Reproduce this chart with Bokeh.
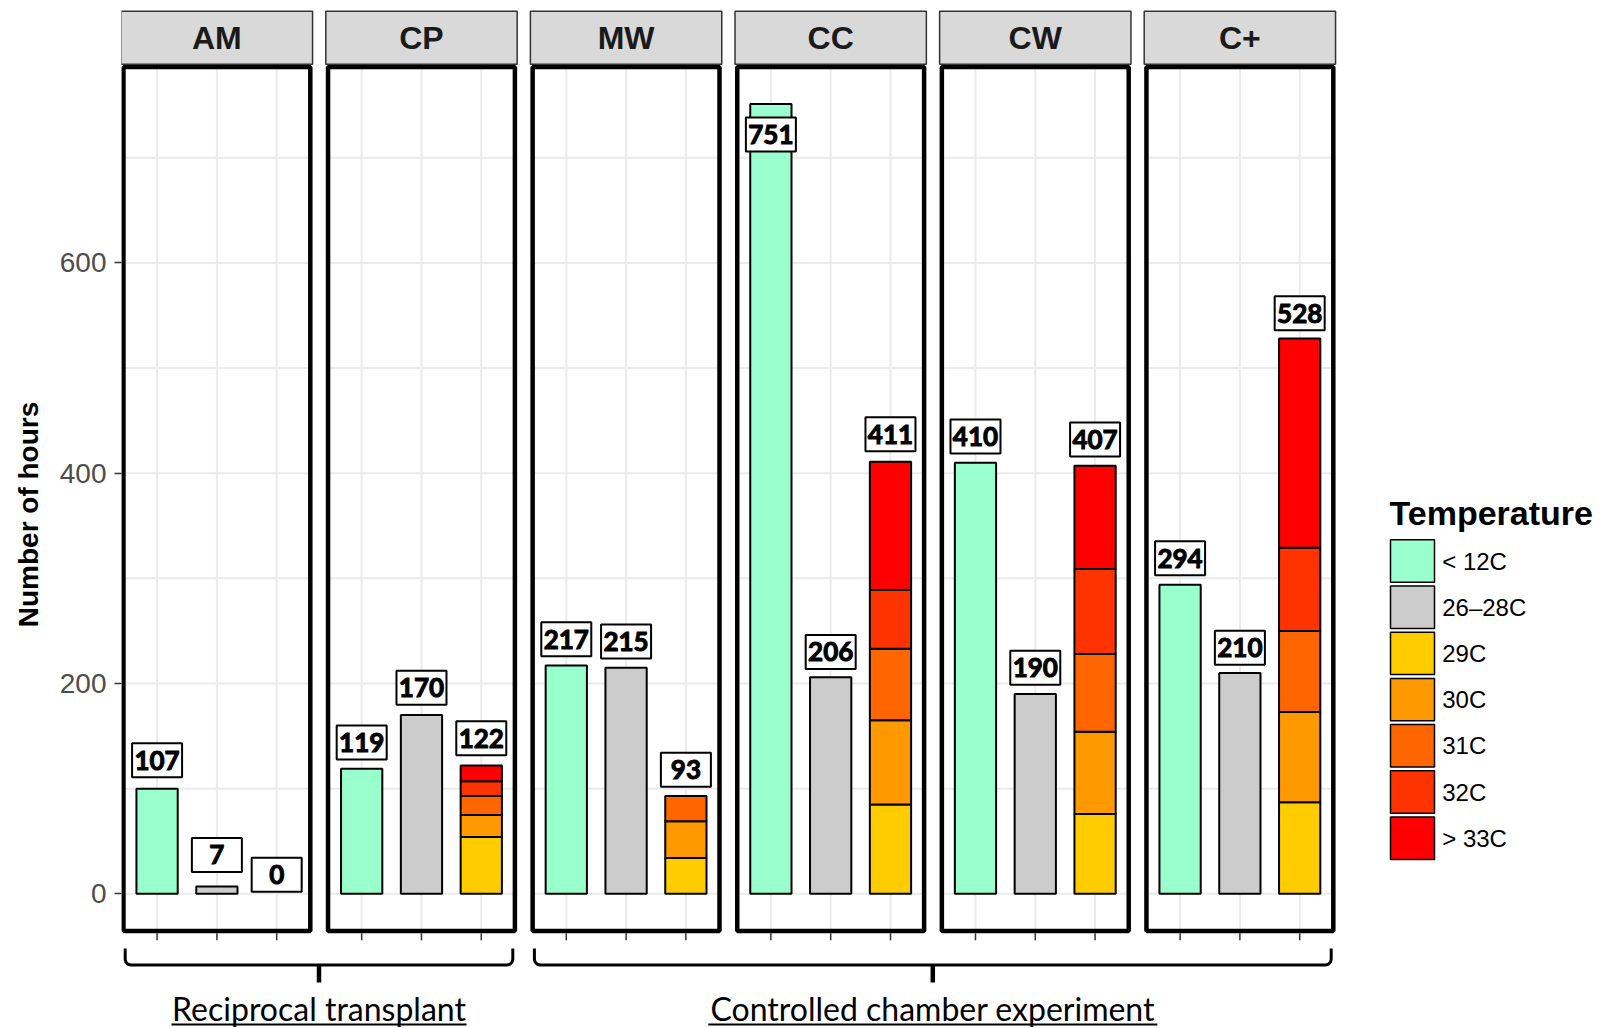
import numpy as np
from bokeh.plotting import figure
from bokeh.models import Range1d, FixedTicker
from bokeh.embed import file_html
from bokeh.resources import INLINE
from bokeh.core.properties import value

# ---------------- data ----------------
panels = ["AM", "CP", "MW", "CC", "CW", "C+"]
temperatures = ["< 12C", "26\u201328C", "29C", "30C", "31C", "32C", "> 33C"]
colors = ["#99FFCC", "#CCCCCC", "#FFCC00", "#FF9900", "#FF6600", "#FF3300", "#FF0000"]

hours_below_12 = [100, 119, 217, 751, 410, 294]
hours_26_28 = [7, 170, 215, 206, 190, 210]
hours_29 = [0, 54, 34, 85, 76, 87]
hours_30 = [0, 21, 35, 80, 78, 86]
hours_31 = [0, 18, 24, 68, 74, 77]
hours_32 = [0, 14, 0, 56, 81, 79]
hours_33 = [0, 15, 0, 122, 98, 199]

label_below_12 = [107, 119, 217, 751, 410, 294]
label_26_28 = [7, 170, 215, 206, 190, 210]
label_hot = [0, 122, 93, 411, 407, 528]

# vertical nudge of each label (data units) relative to its bar top
nudge_below_12 = [27, 25, 25, -29, 25, 25]
nudge_26_28 = [30, 26, 25, 24, 25, 24]
nudge_hot = [18, 26, 25, 26, 25, 24]

y_ticks = [0, 200, 400, 600]
y_minor = [100, 300, 500, 700]

groups = ["Reciprocal transplant", "Controlled chamber experiment"]
group_first = [0, 2]
group_last = [1, 5]

# ---------------- layout constants ----------------
W, H = 1604, 1028
ML = 121
MARGIN = 0
PX_PER_X = 59.8
PX_PER_Y = 1.0515
PAGE_X_EDGE = 120.7
PAGE_Y_ZERO = 893.3
PITCH = 204.6 / PX_PER_X
BAR_W = 0.69


def xd(page_x):
    return 0.4 + (page_x - PAGE_X_EDGE) / PX_PER_X


def yd(page_y):
    return (PAGE_Y_ZERO - page_y) / PX_PER_Y


def wx(px):
    return px / PX_PER_X


def hy(px):
    return px / PX_PER_Y


ymax = max(max(hours_below_12), max(hours_26_28),
           max(np.sum([hours_29, hours_30, hours_31, hours_32, hours_33], axis=0)))
ylo = -0.05 * ymax
yhi = 1.05 * ymax

p = figure(width=W, height=H, output_backend="svg", toolbar_location=None,
           x_range=Range1d(xd(MARGIN + ML), xd(MARGIN + W)),
           y_range=Range1d(yd(MARGIN + H), yd(MARGIN)),
           x_axis_type=None, min_border_left=ML, min_border_right=0,
           min_border_top=0, min_border_bottom=0)
p.outline_line_color = None
p.grid.visible = False
p.background_fill_color = "white"
p.border_fill_color = "white"

# y axis
ax = p.yaxis[0]
ax.ticker = FixedTicker(ticks=y_ticks, minor_ticks=[])
ax.axis_line_color = None
ax.major_tick_out = 7
ax.major_tick_in = 0
ax.minor_tick_out = 0
ax.minor_tick_in = 0
ax.major_tick_line_color = "#333333"
ax.major_tick_line_width = 1.5
ax.major_label_text_font = "Liberation Sans"
ax.major_label_text_font_size = "28px"
ax.major_label_text_color = "#4D4D4D"
ax.major_label_standoff = 8
ax.axis_label = "Number of hours"
ax.axis_label_text_font = "Liberation Sans"
ax.axis_label_text_font_size = "28px"
ax.axis_label_text_font_style = "bold"
ax.axis_label_text_color = "black"
ax.axis_label_standoff = 13

n = len(panels)
offs = [k * PITCH for k in range(n)]

# grid lines inside panels
gx0, gy0, gx1, gy1 = [], [], [], []
for o in offs:
    for t in y_ticks + y_minor:
        gx0.append(o + 0.4); gx1.append(o + 3.6); gy0.append(t); gy1.append(t)
    for j in (1, 2, 3):
        gx0.append(o + j); gx1.append(o + j); gy0.append(ylo); gy1.append(yhi)
p.segment(gx0, gy0, gx1, gy1, line_color="#EBEBEB", line_width=2)

# bars
bx, bb, bt, bc = [], [], [], []
hot_series = [hours_29, hours_30, hours_31, hours_32, hours_33]
for k, o in enumerate(offs):
    if hours_below_12[k] > 0:
        bx.append(o + 1); bb.append(0); bt.append(hours_below_12[k]); bc.append(colors[0])
    if hours_26_28[k] > 0:
        bx.append(o + 2); bb.append(0); bt.append(hours_26_28[k]); bc.append(colors[1])
    base = 0
    for s, series in enumerate(hot_series):
        v = series[k]
        if v > 0:
            bx.append(o + 3); bb.append(base); bt.append(base + v); bc.append(colors[2 + s])
        base += v
p.vbar(x=bx, bottom=bb, top=bt, width=BAR_W, fill_color=bc, line_color="black", line_width=2)

# value labels
lx, ly, lt = [], [], []
for k, o in enumerate(offs):
    hot_total = sum(s[k] for s in hot_series)
    lx += [o + 1, o + 2, o + 3]
    ly += [hours_below_12[k] + nudge_below_12[k],
           hours_26_28[k] + nudge_26_28[k],
           hot_total + nudge_hot[k]]
    lt += [str(label_below_12[k]), str(label_26_28[k]), str(label_hot[k])]
p.rect(x=lx, y=ly, width=wx(50), height=hy(34), fill_color="white",
       line_color="black", line_width=2)
p.text(x=lx, y=ly, text=lt, text_align="center", text_baseline="middle",
       text_font=value("Lato"), text_font_style="bold", text_font_size="26px",
       text_color="black", text_outline_color="black")

# panel borders
p.quad(left=[o + 0.4 + wx(2.25) for o in offs], right=[o + 3.6 - wx(2.25) for o in offs],
       bottom=[ylo + hy(2.25)] * n, top=[yhi - hy(2.25)] * n,
       fill_color=None, line_color="black", line_width=4.5)

# strips
p.quad(left=[o + 0.4 for o in offs], right=[o + 3.6 for o in offs],
       bottom=[yhi + hy(0.5)] * n, top=[yhi + hy(53.5)] * n,
       fill_color="#D9D9D9", line_color="#333333", line_width=1.5)
p.text(x=[o + 2 for o in offs], y=[yhi + hy(27)] * n, text=panels,
       text_align="center", text_baseline="middle",
       text_font=value("Liberation Sans"), text_font_style="bold",
       text_font_size="32px", text_color="#1A1A1A")

# x ticks below panels
tx = [o + j for o in offs for j in (1, 2, 3)]
p.segment(tx, [ylo] * len(tx), tx, [ylo - hy(7)] * len(tx),
          line_color="#333333", line_width=1.5)

# legend
key_left, key_right = xd(1390), xd(1434)
ky_top = [yd(539.3 + i * 46.2) for i in range(len(temperatures))]
ky_bot = [yd(539.3 + i * 46.2 + 42.4) for i in range(len(temperatures))]
p.quad(left=[key_left] * len(temperatures), right=[key_right] * len(temperatures),
       top=ky_top, bottom=ky_bot, fill_color=colors, line_color="black", line_width=1.5)
p.text(x=[xd(1441.7)] * len(temperatures),
       y=[(a + b) / 2 for a, b in zip(ky_top, ky_bot)], text=temperatures,
       text_align="left", text_baseline="middle",
       text_font=value("Liberation Sans"), text_font_size="24px", text_color="black")
p.text(x=[xd(1389)], y=[yd(512)], text=["Temperature"], text_align="left",
       text_baseline="middle", text_font=value("Liberation Sans"),
       text_font_style="bold", text_font_size="34px", text_color="black")

# group brackets and captions
underline_px = [295, 449]
top_y, h_y, nub_y = 948, 964.5, 982
r = 6
for g in range(len(groups)):
    left_page = PAGE_X_EDGE + group_first[g] * 204.6 + 4
    right_page = PAGE_X_EDGE + group_last[g] * 204.6 + 191 - 4
    xs, ys = [left_page], [top_y]
    xs.append(left_page); ys.append(h_y - r)
    for a in np.linspace(np.pi, np.pi / 2, 8):
        xs.append(left_page + r + r * np.cos(a)); ys.append(h_y - r + r * np.sin(a))
    for a in np.linspace(np.pi / 2, 0, 8):
        xs.append(right_page - r + r * np.cos(a)); ys.append(h_y - r + r * np.sin(a))
    xs.append(right_page); ys.append(top_y)
    p.line([xd(v) for v in xs], [yd(v) for v in ys], line_color="black", line_width=3)
    cx = (left_page + right_page) / 2
    p.line([xd(cx), xd(cx)], [yd(h_y), yd(nub_y)], line_color="black", line_width=4.5)
    p.text(x=[xd(cx)], y=[yd(1008)], text=[groups[g]], text_align="center",
           text_baseline="middle", text_font=value("Lato"),
           text_font_size="32px", text_color="black")
    p.line([xd(cx - underline_px[g] / 2), xd(cx + underline_px[g] / 2)],
           [yd(1024), yd(1024)], line_color="black", line_width=2)

open("out.html", "w").write(file_html(p, INLINE))
